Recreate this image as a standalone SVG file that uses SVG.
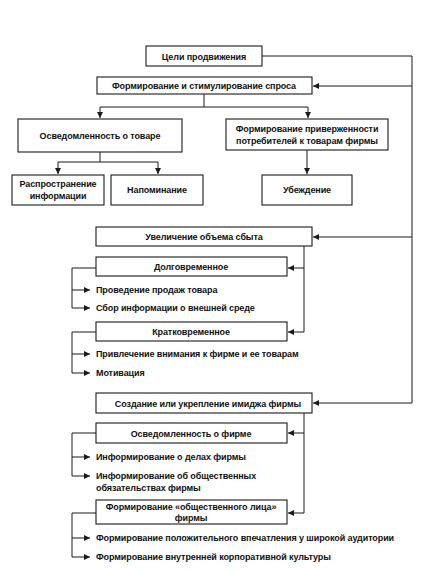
<svg xmlns="http://www.w3.org/2000/svg" width="439" height="572" viewBox="0 0 439 572">
<style>
rect{fill:#fff;stroke:#1a1a1a;stroke-width:1.1}
text{font-family:"Liberation Sans",Arial,sans-serif;font-size:9px;fill:#111;font-weight:bold;letter-spacing:-0.1px}
.c{text-anchor:middle}
#connectors path{fill:none;stroke:#1a1a1a;stroke-width:1}
</style>
<defs>
<marker id="a" viewBox="0 0 10 10" refX="10" refY="5" markerWidth="7" markerHeight="6" markerUnits="userSpaceOnUse" orient="auto">
<path d="M0,0L10,5L0,10z" fill="#1a1a1a"/>
</marker>
</defs>
<g id="connectors">
<path d="M262,56H412V403"/>
<path d="M412,86H313" marker-end="url(#a)"/>
<path d="M412,237H313" marker-end="url(#a)"/>
<path d="M412,403H313" marker-end="url(#a)"/>
<path d="M204,94V107"/>
<path d="M100,107H308"/>
<path d="M100,107V118" marker-end="url(#a)"/>
<path d="M308,107V118" marker-end="url(#a)"/>
<path d="M100,152V162"/>
<path d="M58,162H158"/>
<path d="M58,162V174" marker-end="url(#a)"/>
<path d="M158,162V174" marker-end="url(#a)"/>
<path d="M307,150V174" marker-end="url(#a)"/>
<path d="M304,246V332"/>
<path d="M304,268H288" marker-end="url(#a)"/>
<path d="M304,332H288" marker-end="url(#a)"/>
<path d="M96,268H72V308"/>
<path d="M72,290H90" marker-end="url(#a)"/>
<path d="M72,308H90" marker-end="url(#a)"/>
<path d="M96,332H72V373"/>
<path d="M72,354H90" marker-end="url(#a)"/>
<path d="M72,373H90" marker-end="url(#a)"/>
<path d="M304,413V513"/>
<path d="M304,433H288" marker-end="url(#a)"/>
<path d="M304,513H288" marker-end="url(#a)"/>
<path d="M96,433H72V476"/>
<path d="M72,457H90" marker-end="url(#a)"/>
<path d="M72,476H90" marker-end="url(#a)"/>
<path d="M96,513H72V557"/>
<path d="M72,538H90" marker-end="url(#a)"/>
<path d="M72,557H90" marker-end="url(#a)"/>
</g>
<g id="n-goals"><rect x="146" y="46" width="116" height="20"/><text class="c" x="204" y="59.5">Цели продвижения</text></g>
<g id="n-demand"><rect x="97" y="77" width="215" height="17"/><text class="c" x="204" y="89">Формирование и стимулирование спроса</text></g>
<g id="n-aware-product"><rect x="18" y="119" width="164" height="33"/><text class="c" x="100" y="139">Осведомленность о товаре</text></g>
<g id="n-loyalty"><rect x="226" y="119" width="162" height="31"/><text class="c" x="307" y="132">Формирование приверженности</text><text class="c" x="307" y="144">потребителей к товарам фирмы</text></g>
<g id="n-spread"><rect x="12" y="175" width="92" height="30"/><text class="c" x="58" y="187">Распространение</text><text class="c" x="58" y="199">информации</text></g>
<g id="n-remind"><rect x="111" y="175" width="92" height="30"/><text class="c" x="157" y="193">Напоминание</text></g>
<g id="n-persuade"><rect x="262" y="175" width="90" height="30"/><text class="c" x="307" y="193">Убеждение</text></g>
<g id="n-sales"><rect x="96" y="227" width="216" height="19"/><text class="c" x="204" y="240">Увеличение объема сбыта</text></g>
<g id="n-long"><rect x="96" y="257" width="191" height="19"/><text class="c" x="191" y="270">Долговременное</text></g>
<g id="t-long1"><text x="96" y="293">Проведение продаж товара</text></g>
<g id="t-long2"><text x="96" y="311">Сбор информации о внешней среде</text></g>
<g id="n-short"><rect x="96" y="322" width="191" height="19"/><text class="c" x="191" y="335">Кратковременное</text></g>
<g id="t-short1"><text x="96" y="357">Привлечение внимания к фирме и ее товарам</text></g>
<g id="t-short2"><text x="96" y="376">Мотивация</text></g>
<g id="n-image"><rect x="96" y="393" width="216" height="20"/><text class="c" x="208" y="406.5">Создание или укрепление имиджа фирмы</text></g>
<g id="n-aware-firm"><rect x="96" y="423" width="191" height="20"/><text class="c" x="191" y="436.5">Осведомленность о фирме</text></g>
<g id="t-firm1"><text x="96" y="460">Информирование о делах фирмы</text></g>
<g id="t-firm2"><text x="96" y="479">Информирование об общественных</text><text x="96" y="491">обязательствах фирмы</text></g>
<g id="n-face"><rect x="96" y="500" width="191" height="24"/><text class="c" x="191" y="510">Формирование «общественного лица»</text><text class="c" x="191" y="521">фирмы</text></g>
<g id="t-face1"><text x="96" y="541">Формирование положительного впечатления у широкой аудитории</text></g>
<g id="t-face2"><text x="96" y="560">Формирование внутренней корпоративной культуры</text></g>
</svg>
